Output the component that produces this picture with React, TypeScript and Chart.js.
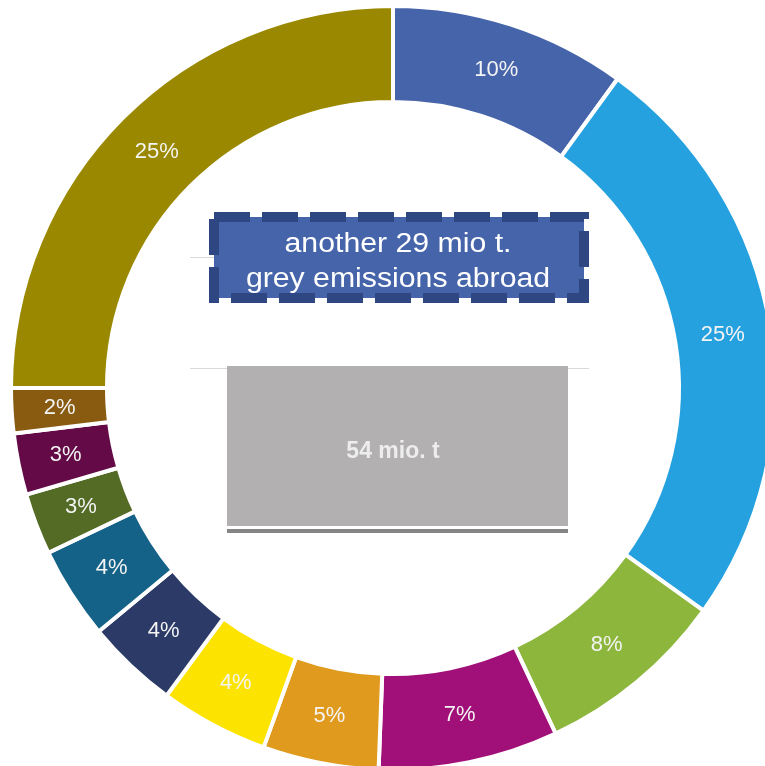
import React, { useEffect, useRef } from "react";
import { Chart, registerables } from "chart.js";

Chart.register(...registerables);

const categories = [
  "Segment A", "Segment B", "Segment C", "Segment D", "Segment E", "Segment F",
  "Segment G", "Segment H", "Segment I", "Segment J", "Segment K", "Segment L",
];
const values = [10, 24.9, 8.1, 7.6, 4.9, 4.6, 3.9, 3.9, 2.6, 2.6, 1.9, 25];
const pctLabels = ["10%", "25%", "8%", "7%", "5%", "4%", "4%", "4%", "3%", "3%", "2%", "25%"];
const colors = [
  "#4664AA", "#25A1DF", "#8DB63C", "#A10F78", "#E09B1E", "#FCE300",
  "#2B3A66", "#156289", "#536B25", "#630A47", "#885B11", "#9A8900",
];
const boxLines = ["another 29 mio t.", "grey emissions abroad"];
const barLabel = "54 mio. t";

const labelPlugin = {
  id: "pctLabels",
  afterDatasetsDraw(chart: any) {
    const ctx = chart.ctx;
    const meta = chart.getDatasetMeta(0);
    ctx.save();
    ctx.fillStyle = "#F4F4F4";
    ctx.font = "22px 'Liberation Sans', Arial, sans-serif";
    ctx.textAlign = "center";
    ctx.textBaseline = "middle";
    meta.data.forEach((arc: any, i: number) => {
      const p = arc.tooltipPosition();
      ctx.fillText(pctLabels[i], p.x, p.y);
    });
    ctx.restore();
  },
};

const centerPlugin = {
  id: "centerArt",
  afterDraw(chart: any) {
    const ctx = chart.ctx;
    const a = chart.chartArea;
    const cx = (a.left + a.right) / 2;
    const cy = (a.top + a.bottom) / 2;
    ctx.save();
    // light grid lines
    ctx.strokeStyle = "#D9D9D9";
    ctx.lineWidth = 1;
    ctx.beginPath();
    ctx.moveTo(cx - 203, cy - 130.5);
    ctx.lineTo(cx + 196, cy - 130.5);
    ctx.moveTo(cx - 203, cy - 19.5);
    ctx.lineTo(cx + 196, cy - 19.5);
    ctx.stroke();

    // grey bar
    ctx.fillStyle = "#B2B0B0";
    ctx.fillRect(cx - 166, cy - 22, 341, 160);
    ctx.fillStyle = "#858585";
    ctx.fillRect(cx - 166, cy + 141, 341, 4);
    ctx.fillStyle = "#EDEDED";
    ctx.font = "bold 23px 'Liberation Sans Narrow', 'Liberation Sans', Arial, sans-serif";
    ctx.textAlign = "center";
    ctx.textBaseline = "middle";
    ctx.fillText(barLabel, cx, cy + 64);

    // dashed blue box
    const bx = cx - 179, by = cy - 171, bw = 370, bh = 81;
    ctx.fillStyle = "#4664AA";
    ctx.fillRect(bx, by, bw, bh);
    ctx.strokeStyle = "#2E4682";
    ctx.lineWidth = 10;
    ctx.setLineDash([36, 12]);
    ctx.strokeRect(bx, by, bw, bh);
    ctx.setLineDash([]);

    ctx.fillStyle = "#FFFFFF";
    ctx.font = "27px 'Liberation Sans', Arial, sans-serif";
    ctx.textBaseline = "alphabetic";
    boxLines.forEach((t, i) => {
      ctx.save();
      ctx.translate(cx + 5, cy - 136 + i * 35);
      ctx.scale(1.12, 1);
      ctx.fillText(t, 0, 0);
      ctx.restore();
    });
    ctx.restore();
  },
};

export default function App() {
  const ref = useRef<HTMLCanvasElement | null>(null);
  useEffect(() => {
    if (!ref.current) return;
    const chart = new Chart(ref.current, {
      type: "doughnut",
      data: {
        labels: categories,
        datasets: [
          {
            data: values,
            backgroundColor: colors,
            borderColor: "#FFFFFF",
            borderWidth: 4,
          },
        ],
      },
      options: {
        responsive: false,
        maintainAspectRatio: false,
        animation: false,
        radius: 382,
        cutout: "74.87%",
        layout: { padding: { left: 0, right: 14, top: 0, bottom: 24 } },
        plugins: {
          legend: { display: false },
          tooltip: { enabled: false },
        },
      } as any,
      plugins: [labelPlugin, centerPlugin],
    });
    return () => chart.destroy();
  }, []);
  return (
    <div
      style={{
        position: "absolute",
        left: 0,
        top: 0,
        width: 765,
        height: 766,
        overflow: "hidden",
        background: "#FFFFFF",
      }}
    >
      <canvas ref={ref} width={800} height={800} style={{ display: "block" }} />
    </div>
  );
}
